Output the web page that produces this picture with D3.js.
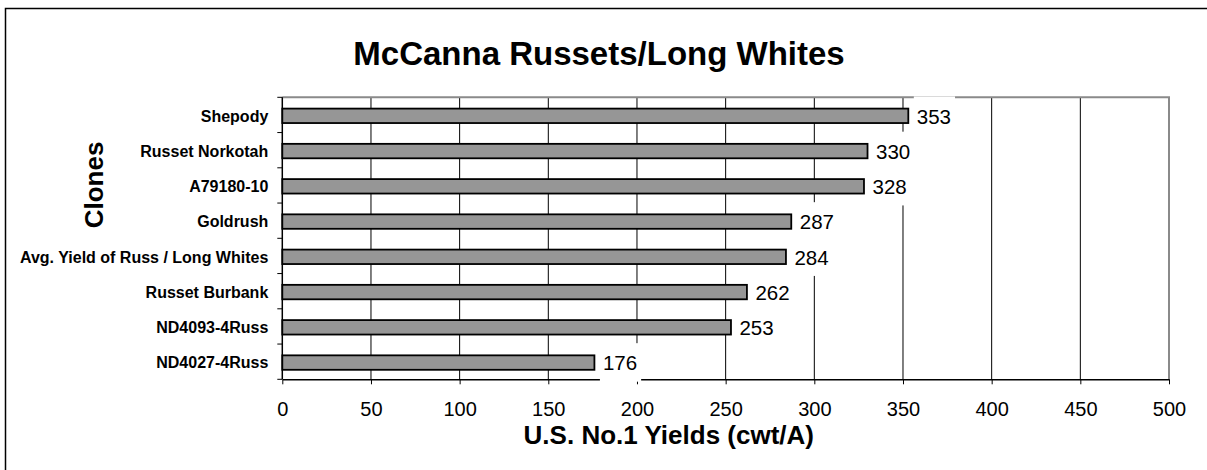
<!DOCTYPE html>
<html>
<head>
<meta charset="utf-8">
<script src="https://cdn.jsdelivr.net/npm/d3@7"></script>
<style>
  html, body { margin: 0; padding: 0; background: #fff; overflow: hidden; }
  svg { display: block; font-family: "Liberation Sans", Arial, sans-serif; }
</style>
</head>
<body>
<svg id="chart" width="1207" height="470"></svg>
<script>
// Clones, top to bottom, with their U.S. No.1 yields (cwt/A)
const clones = [
  "Shepody",
  "Russet Norkotah",
  "A79180-10",
  "Goldrush",
  "Avg. Yield of Russ / Long Whites",
  "Russet Burbank",
  "ND4093-4Russ",
  "ND4027-4Russ"
];
const yields = [353, 330, 328, 287, 284, 262, 253, 176];
const xTickValues = [0, 50, 100, 150, 200, 250, 300, 350, 400, 450, 500];

const chartTitle = "McCanna Russets/Long Whites";
const xTitle = "U.S. No.1 Yields (cwt/A)";
const yTitle = "Clones";

const svg = d3.select("#chart");
const plot = { left: 282.3, right: 1169, top: 97.3, bottom: 379.3 };

const x = d3.scaleLinear().domain([0, 500]).range([plot.left, plot.right]);
const y = d3.scaleBand().domain(clones).range([plot.top, plot.bottom]).padding(0);
const barH = y.bandwidth() * 0.41;

// outer frame (runs off the right and bottom edges)
svg.append("path")
  .attr("d", "M5.5,480V8.5H1260")
  .attr("fill", "none").attr("stroke", "#000").attr("stroke-width", 1.5);

// title
svg.append("text")
  .attr("x", 599).attr("y", 65)
  .attr("text-anchor", "middle")
  .attr("font-size", "33px").attr("font-weight", "bold")
  .text(chartTitle);

// vertical gridlines
svg.append("g").selectAll("line")
  .data(xTickValues.filter(v => v > 0 && v < 500))
  .join("line")
  .attr("x1", d => x(d)).attr("x2", d => x(d))
  .attr("y1", plot.top).attr("y2", plot.bottom)
  .attr("stroke", "#000").attr("stroke-width", 1);

// plot frame: grey top and right edges
svg.append("path")
  .attr("d", `M${plot.left},${plot.top}H${plot.right}V${plot.bottom}`)
  .attr("fill", "none").attr("stroke", "#8a8a8a").attr("stroke-width", 2);

// x axis
const xAxis = svg.append("g")
  .attr("transform", `translate(0,${plot.bottom})`)
  .call(d3.axisBottom(x).tickValues(xTickValues).tickSize(5).tickSizeOuter(0).tickFormat(d3.format("d")));
xAxis.select(".domain").attr("stroke", "#000").attr("stroke-width", 1.6);
xAxis.selectAll(".tick line").attr("stroke", "#000").attr("stroke-width", 1);
xAxis.selectAll(".tick text")
  .attr("y", 37).attr("dy", 0)
  .attr("font-size", "20px").attr("fill", "#000")
  .attr("font-family", "'Liberation Sans', Arial, sans-serif");

// y axis line with ticks at category boundaries
svg.append("line")
  .attr("x1", plot.left).attr("x2", plot.left)
  .attr("y1", plot.top).attr("y2", plot.bottom)
  .attr("stroke", "#000").attr("stroke-width", 1.5);
const bounds = clones.map(c => y(c)).concat([y(clones[clones.length - 1]) + y.bandwidth()]);
svg.append("g").selectAll("line")
  .data(bounds)
  .join("line")
  .attr("x1", plot.left - 5).attr("x2", plot.left)
  .attr("y1", d => d).attr("y2", d => d)
  .attr("stroke", "#000").attr("stroke-width", 1);

// category labels
svg.append("g").selectAll("text")
  .data(clones)
  .join("text")
  .attr("x", 268.3)
  .attr("y", d => y(d) + y.bandwidth() / 2 + 6.8)
  .attr("text-anchor", "end")
  .attr("font-size", "16px").attr("font-weight", "bold")
  .text(d => d);

// bars
const rows = clones.map((c, i) => ({ clone: c, value: yields[i] }));
svg.append("g").selectAll("rect")
  .data(rows)
  .join("rect")
  .attr("x", x(0))
  .attr("y", d => y(d.clone) + y.bandwidth() / 2 - barH / 2 + 0.9)
  .attr("width", d => x(d.value) - x(0))
  .attr("height", barH)
  .attr("fill", "#969696")
  .attr("stroke", "#000").attr("stroke-width", 1.8);

// value labels on white boxes
const labels = svg.append("g").selectAll("g")
  .data(rows)
  .join("g")
  .attr("transform", d => `translate(${x(d.value)},${y(d.clone) + y.bandwidth() / 2})`);
labels.append("text")
  .attr("x", 8.5).attr("y", 8.6)
  .attr("font-size", "20.5px")
  .text(d => d.value);
labels.each(function () {
  const g = d3.select(this);
  const w = g.select("text").node().getComputedTextLength();
  g.insert("rect", "text")
    .attr("x", 5.5).attr("y", -18.5)
    .attr("width", w + 7).attr("height", 38.5)
    .attr("fill", "#fff");
});

// axis titles
svg.append("text")
  .attr("x", 668.8).attr("y", 444)
  .attr("text-anchor", "middle")
  .attr("font-size", "26px").attr("font-weight", "bold")
  .text(xTitle);
svg.append("text")
  .attr("transform", "translate(103.3,185) rotate(-90)")
  .attr("text-anchor", "middle")
  .attr("font-size", "26px").attr("font-weight", "bold")
  .text(yTitle);
</script>
</body>
</html>
